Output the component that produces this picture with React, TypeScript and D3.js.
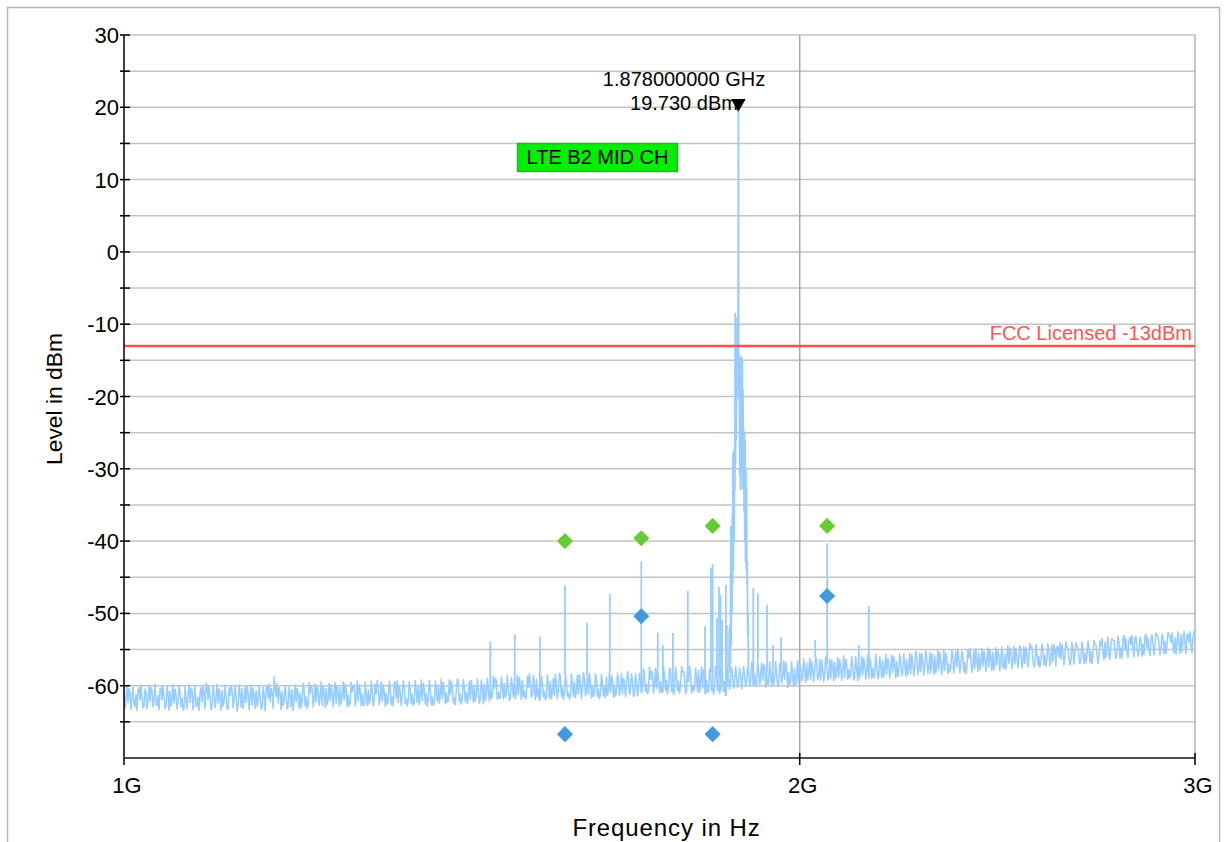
import React from "react";
import * as d3 from "d3";

const W = 1225;
const H = 842;
const FONT = "'Liberation Sans', Arial, sans-serif";

// axis definitions
const freqDomainMHz = [1000, 3000];
const levelDomain = [-70, 30];
const yMajorTicks = [30, 20, 10, 0, -10, -20, -30, -40, -50, -60];
const yMinorTicks = [25, 15, 5, -5, -15, -25, -35, -45, -55, -65];
const xTicksMHz = [1000, 2000, 3000];
const xTickLabels = ["1G", "2G", "3G"];

// noise floor: even sweep points (log-spaced from 1 GHz to 3 GHz)
const floorEven = [
  -60.0,-61.8,-62.4,-60.9,-61.5,-62.7,-61.2,-60.6,-62.1,-61.4,
  -62.9,-61.0,-61.7,-62.3,-60.8,-61.9,-62.6,-61.3,-60.4,-62.0,
  -61.6,-62.8,-61.1,-60.7,-61.9,-62.5,-61.4,-62.2,-60.9,-61.6,
  -63.0,-61.8,-61.2,-62.4,-60.5,-61.7,-62.9,-61.5,-60.9,-62.3,
  -61.1,-59.6,-62.0,-61.4,-62.7,-61.0,-61.8,-62.5,-61.3,-60.6,
  -62.2,-61.6,-63.2,-61.4,-60.8,-62.0,-61.5,-62.6,-61.1,-60.3,
  -61.9,-62.4,-61.0,-61.7,-62.8,-61.2,-60.6,-62.1,-61.5,-62.9,
  -61.3,-60.2,-61.8,-62.3,-61.0,-58.7,-61.6,-62.5,-61.1,-60.7,
  -62.0,-61.4,-62.7,-61.2,-60.5,-61.9,-62.3,-61.0,
  -61.0,-62.2,-60.6,-61.5,-62.6,-61.1,-60.4,-61.8,-62.3,-60.9,
  -61.4,-62.8,-61.0,-60.3,-61.7,-62.1,-60.8,-61.3,-62.5,-61.0,
  -60.2,-61.6,-62.0,-60.7,-61.2,-62.4,-60.9,-59.9,-61.5,-62.2,
  -60.6,-61.1,-62.7,-61.3,-60.5,-61.9,-60.8,-62.0,-61.2,-60.1,
  -61.6,-62.3,-60.7,-61.0,-62.1,-60.4,-61.5,-59.5,-61.8,-62.4,
  -60.9,-61.3,-60.2,-61.7,-62.0,-60.6,-61.1,-62.5,-60.8,-60.0,
  -61.4,-62.1,-60.5,-61.0,-61.8,-60.3,-61.5,-62.2,-60.7,-59.8,
  -61.2,-61.9,-60.4,-60.9,-62.0,-61.3,-60.1,-61.6,-60.6,-59.6,
  -61.1,-61.8,-60.2,-60.8,-61.5,-62.0,-60.5,-59.9,-61.3,-60.7,
  -61.7,-60.3,-59.7,-61.2,-60.6,
  -60.0,-61.4,-60.5,-59.3,-60.8,-61.6,-60.2,-59.6,-61.0,-60.4,
  -61.7,-60.1,-59.4,-60.9,-61.3,-60.0,-59.2,-60.6,-61.5,-60.3,
  -59.7,-61.1,-60.5,-59.0,-60.4,-61.2,-59.8,-60.7,-61.6,-60.0,
  -59.3,-60.9,-61.4,-59.9,-60.5,-58.8,-60.2,-61.0,-59.6,-60.8,
  -61.5,-60.1,-59.4,-60.6,-61.2,-59.8,-60.3,-58.9,-60.7,-61.3,
  -59.5,-60.0,-60.9,-59.2,-60.4,-61.1,-59.7,-60.2,-58.7,-60.6,
  -61.0,-59.4,-59.9,-60.8,-59.1,-60.3,-61.2,-59.6,-60.0,-58.8,
  -60.5,-59.3,-60.9,-59.7,-60.2,
  -59.0,-60.4,-58.6,-59.7,-60.8,-59.2,-58.3,-59.9,-60.5,-58.8,
  -59.4,-60.9,-58.5,-59.1,-60.2,-57.9,-59.6,-60.6,-58.7,-59.3,
  -60.1,-58.2,-59.0,-60.7,-59.5,-58.4,-59.8,-60.3,-58.9,-57.8,
  -59.5,-60.4,-58.6,-59.2,-60.9,-58.1,-59.7,-60.2,-58.5,-59.0,
  -60.6,-58.8,-59.4,-60.1,-59.0,
  -59.2,-58.6,-59.5,-58.9,-59.3,-58.4,-59.0,-58.7,-59.4,
  -58.0,-59.5,-57.6,-58.4,-59.8,-57.9,-58.7,-59.3,-57.4,-58.2,
  -59.6,-58.5,-57.7,-59.0,-58.3,-59.9,-57.8,-58.6,-59.2,-57.5,
  -58.1,-59.4,-58.8,-57.6,-58.9,-59.7,
  -57.4,-59.0,-57.9,-56.8,-58.3,-59.2,-57.6,-58.0,-56.6,-58.7,
  -59.3,-57.5,-58.1,-57.0,-58.8,-59.1,-57.3,-56.7,-58.2,-58.9,
  -57.4,-57.9,-59.0,-56.9,-57.7,-58.5,-57.1,-58.8,-57.6,-56.5,
  -58.0,-58.6,-57.2,-57.8,-59.0,-56.8,-57.5,-58.3,-57.0,-58.7,
  -57.3,-56.4,-57.9,-58.5,-56.9,-57.6,-58.2,-57.1,-56.6,-58.0,
  -56.8,-58.2,-57.0,-56.3,-57.6,-58.4,-56.7,-57.3,-55.9,-57.8,
  -58.1,-56.5,-57.2,-56.0,-57.7,-58.3,-56.6,-55.8,-57.4,-57.9,
  -56.4,-57.1,-58.0,-56.2,-56.9,-57.6,-55.7,-56.8,-57.5,-56.1,
  -57.3,-55.6,-56.7,-57.8,-56.3,-56.0,-57.2,-57.7,-56.5,-55.4,
  -56.9,-57.4,-55.9,-56.6,-57.5,-56.0,-55.3,-56.8,-57.2,-55.8,
  -56.3,-57.3,-55.6,-56.0,-57.0,-55.2,-56.5,-57.1,-55.8,-56.2,
  -55.1,-56.8,-57.0,-55.5,-56.1,-54.8,-56.4,-56.9,-55.3,-55.9,
  -56.6,-54.9,-55.7,-56.5,-55.2,-56.0,-56.8,-55.0,-54.6,-56.1,
  -56.4,-55.3,-55.8,-54.7,-56.2,-56.6,-55.1,-55.5,-54.5,-55.9,
  -56.3,-54.8,-55.4,-56.0,-54.6,-55.2,-55.8,-54.3,-55.6,-56.1,
  -54.6,-55.5,-53.9,-54.9,-55.7,-54.2,-53.7,-55.1,-55.6,-54.0,
  -54.7,-53.5,-55.2,-55.4,-53.8,-54.4,-55.0,-53.4,-54.6,-55.3,
  -53.9,-54.2,-53.2,-54.8,-55.1,-53.6,-54.0,-54.7,-53.1,-54.3,
  -54.9,-53.5,-53.8,-54.5,-52.9,-54.1,-54.6,-53.3,-53.9,-54.4,
  -52.8,-53.7,-54.3,-53.0,-54.0,-54.5,-53.2,-53.6,
];

// odd sweep points (between the even ones) - the band extremes
const floorOdd = [
  -63.2,-59.9,-60.3,-63.4,-60.1,-62.9,-63.5,-60.2,-59.8,-63.1,
  -60.4,-63.3,-59.9,-60.2,-63.0,-59.7,-62.8,-63.4,-60.3,-59.9,
  -63.2,-60.0,-63.5,-62.9,-59.8,-60.4,-63.3,-59.9,-63.0,-63.4,
  -60.1,-63.2,-59.8,-60.3,-63.4,-60.0,-62.8,-63.5,-60.2,-59.9,
  -63.3,-60.1,-60.0,-63.4,-59.9,-63.1,-59.7,-60.4,-63.5,-62.9,
  -59.8,-63.3,-60.2,-59.9,-63.1,-60.0,-63.6,-59.8,-63.0,-63.2,
  -60.1,-59.9,-63.4,-59.8,-60.3,-63.2,-62.9,-60.0,-63.3,-60.2,
  -63.5,-60.1,-59.7,-60.3,-63.2,-60.4,-59.6,-60.2,-63.4,-62.8,
  -59.9,-63.3,-60.1,-63.0,-63.5,-59.8,-60.3,-63.2,
  -63.1,-59.6,-62.9,-63.2,-59.5,-59.9,-63.0,-59.7,-60.0,-62.8,
  -59.4,-60.0,-63.1,-62.7,-59.6,-59.8,-63.0,-59.5,-59.9,-62.9,
  -62.6,-59.4,-59.7,-63.0,-62.8,-59.5,-59.9,-62.9,-59.3,-59.8,
  -62.9,-62.7,-59.4,-62.8,-62.6,-59.3,-62.9,-59.7,-59.2,-62.7,
  -59.4,-59.8,-62.9,-62.6,-59.3,-62.7,-62.9,-59.5,-59.2,-59.9,
  -62.8,-59.3,-62.5,-62.9,-59.4,-62.6,-62.8,-59.2,-62.4,-62.7,
  -59.1,-59.6,-62.6,-62.9,-59.2,-62.7,-62.8,-59.3,-62.2,-62.5,
  -59.0,-59.5,-62.6,-62.4,-59.1,-59.3,-62.5,-62.7,-59.0,-62.3,
  -62.6,-59.1,-62.3,-62.5,-59.3,-59.2,-62.4,-62.2,-59.0,-62.5,
  -59.1,-62.6,-62.1,-58.9,-62.2,
  -61.9,-58.6,-58.9,-62.0,-61.8,-58.7,-61.9,-61.7,-58.5,-62.1,
  -58.8,-61.6,-61.9,-58.5,-58.8,-62.0,-61.6,-61.9,-58.6,-58.3,
  -61.7,-58.5,-62.0,-61.6,-62.1,-58.6,-61.6,-62.0,-58.4,-61.8,
  -61.9,-58.9,-58.3,-61.9,-58.2,-61.6,-62.0,-58.4,-61.5,-61.9,
  -58.3,-61.6,-61.8,-58.5,-58.4,-61.9,-58.1,-61.5,-58.6,-58.2,
  -61.8,-61.6,-58.3,-61.6,-61.9,-58.4,-61.5,-61.7,-61.4,-58.1,
  -58.5,-61.7,-61.5,-58.2,-61.4,-58.2,-58.9,-61.6,-58.0,-61.3,
  -58.3,-61.6,-58.3,-61.5,-58.2,
  -61.0,-57.6,-60.9,-61.2,-57.4,-57.9,-61.1,-57.5,-57.8,-61.0,
  -60.9,-57.3,-60.8,-61.2,-57.5,-60.9,-61.3,-57.4,-60.8,-61.1,
  -57.3,-57.9,-61.2,-57.4,-57.2,-61.1,-60.8,-57.5,-60.9,-61.0,
  -57.3,-57.7,-61.2,-60.9,-57.6,-60.8,-61.3,-57.2,-60.8,-61.1,
  -57.5,-60.9,-61.4,-57.4,-60.6,
  -57.4,-60.4,-57.3,-60.3,-57.5,-60.5,-57.3,-60.2,-57.4,
  -60.1,-56.7,-59.9,-60.2,-56.5,-60.0,-56.8,-57.0,-60.3,-60.0,
  -56.6,-60.1,-59.9,-56.6,-60.2,-56.9,-59.8,-56.5,-56.7,-60.3,
  -59.9,-56.6,-60.2,-60.0,-56.5,-57.0,
  -59.4,-56.2,-59.6,-59.3,-56.1,-56.5,-59.5,-56.0,-59.2,-56.3,
  -56.4,-59.5,-55.9,-59.3,-56.2,-56.4,-59.4,-59.1,-56.0,-56.3,
  -59.3,-55.8,-56.3,-59.2,-59.0,-55.9,-59.3,-55.9,-59.4,-59.0,
  -55.8,-56.1,-59.2,-55.7,-56.2,-59.1,-59.0,-55.6,-59.1,-55.9,
  -59.0,-58.9,-55.6,-56.2,-59.0,-55.7,-55.9,-59.0,-58.8,-55.6,
  -58.7,-55.5,-58.8,-58.6,-55.4,-55.7,-58.7,-55.2,-58.5,-55.4,
  -55.5,-58.6,-55.1,-58.4,-55.3,-55.5,-58.5,-58.3,-55.1,-55.3,
  -58.5,-55.0,-55.4,-58.4,-58.2,-55.0,-58.3,-55.2,-55.0,-58.3,
  -55.2,-58.2,-58.4,-55.0,-54.8,-58.2,-55.1,-54.8,-58.1,-57.9,
  -54.8,-55.2,-58.1,-54.7,-55.0,-58.0,-57.9,-54.7,-55.1,-58.0,
  -54.6,-57.7,-57.8,-54.4,-54.7,-57.7,-54.5,-54.8,-57.6,-54.4,
  -57.6,-54.5,-54.7,-57.5,-54.1,-54.6,-57.5,-54.2,-57.3,-57.5,
  -54.2,-57.2,-57.4,-54.1,-57.3,-54.3,-54.2,-57.3,-54.6,-54.0,
  -54.2,-57.2,-53.9,-54.8,-57.2,-53.9,-57.1,-54.0,-54.8,-57.0,
  -53.9,-57.0,-56.9,-53.8,-56.9,-57.0,-53.7,-54.4,-57.0,-53.8,
  -53.4,-56.5,-56.2,-53.2,-56.4,-53.5,-53.7,-56.3,-53.1,-56.2,
  -56.3,-53.0,-53.4,-56.2,-53.2,-53.0,-56.1,-53.1,-56.0,-53.2,
  -56.0,-55.8,-52.8,-53.3,-55.9,-52.9,-55.8,-52.7,-53.1,-55.8,
  -52.8,-55.7,-55.6,-52.6,-53.2,-52.6,-55.5,-55.7,-52.5,-55.6,
  -55.4,-52.4,-55.6,-52.8,-52.5,-55.5,-52.4,
];

// discrete spurs on the trace [MHz, dBm]
const spurFreqsMHz = [1456, 1493, 1532, 1572, 1608, 1646, 1700, 1729, 1738, 1756, 1783, 1815, 1826, 1829, 1837, 1841, 1844, 1847, 1854, 1856, 1907, 1916, 1934, 1946, 1962, 2032, 2057, 2125, 2147];
const spurLevels =    [-53.9, -52.9, -53.2, -46.1, -51.3, -47.3, -42.8, -52.7, -54.4, -52.7, -46.9, -51.8, -43.7, -43.2, -50.6, -46.3, -47.5, -50.9, -46.1, -51.6, -46.5, -47.3, -48.8, -54.4, -53.3, -53.7, -40.3, -54.4, -49.0];

// carrier region, read at fine resolution
const carrierMHz = [1860.0,1860.7,1861.4,1862.1,1862.8,1863.5,1864.2,1864.9,1865.6,1866.3,1867.0,1867.7,1868.4,1869.1,1869.8,1870.5,1871.2,1871.9,1872.6,1873.3,1874.0,1874.7,1875.4,1876.1,1876.8,1877.5,1878.0,1878.5,1879.2,1879.9,1880.6,1881.3,1882.0,1882.7,1883.4,1884.1,1884.8,1885.5,1886.2,1886.9,1887.6,1888.3,1889.0,1889.7,1890.4,1891.1,1891.8,1892.5,1893.2,1893.9,1894.6,1895.3,1896.0,1896.7,1897.4];
const carrierDbm = [-57.5,-52.0,-58.2,-51.5,-57.0,-37.9,-54.5,-38.3,-50.0,-36.5,-46.0,-27.8,-44.0,-27.5,-40.0,-27.0,-33.0,-8.4,-29.5,-9.0,-26.0,-12.0,-20.0,-10.5,-17.0,-6.0,19.73,-12.0,-20.5,-14.3,-31.0,-14.5,-33.0,-16.0,-28.0,-14.5,-30.5,-14.8,-32.8,-19.0,-31.0,-24.5,-36.0,-25.0,-40.0,-26.0,-43.0,-30.0,-44.0,-32.4,-46.0,-43.0,-53.0,-50.0,-57.5];

// limit markers
const greenMarkerMHz = [1572, 1700, 1829, 2057];
const greenMarkerDbm = [-40.0, -39.6, -37.9, -37.9];
const blueMarkerMHz = [1572, 1700, 1829, 2057];
const blueMarkerDbm = [-66.7, -50.4, -66.7, -47.6];

const limitLevel = -13;
const limitLabel = "FCC Licensed -13dBm";
const peakMHz = 1878.0;
const peakDbm = 19.73;
const peakLabel1 = "1.878000000 GHz";
const peakLabel2 = "19.730 dBm";
const bandLabel = "LTE B2 MID CH";

export default function App() {
  const L = 124, R = 1195, T = 35, B = 758;
  const x = d3.scaleLog().domain(freqDomainMHz).range([L, R]);
  const y = d3.scaleLinear().domain(levelDomain).range([B, T]);
  const floorLevels: number[] = [];
  floorEven.forEach((v, i) => {
    floorLevels.push(v);
    if (i < floorOdd.length) floorLevels.push(floorOdd[i]);
  });
  const sweep = d3.scaleLog().domain(freqDomainMHz).range([0, floorLevels.length - 1]);
  const floorPts: [number, number][] = floorLevels.map((v, i) => [sweep.invert(i), v]);
  const line = d3.line<[number, number]>().x((d) => x(d[0])).y((d) => y(d[1]));
  const carrierPts: [number, number][] = carrierMHz.map((f, i) => [f, carrierDbm[i]]);
  const diamond = d3.symbol().type(d3.symbolDiamond2).size(165);
  const tri = d3.symbol().type(d3.symbolTriangle).size(95);
  const traceColor = "#99ccff";
  const grid = [...yMajorTicks, ...yMinorTicks];

  return (
    <svg width={W} height={H} style={{ position: "absolute", left: 0, top: 0, background: "#fff" }} fontFamily={FONT}>
      <rect x={7.5} y={7.5} width={1212} height={900} fill="none" stroke="#b8b8b8" strokeWidth={1.5} />
      {grid.map((t) => (
        <line key={"g" + t} x1={L} x2={R} y1={y(t)} y2={y(t)} stroke="#c4c4c4" strokeWidth={1.5} />
      ))}
      <line x1={x(2000)} x2={x(2000)} y1={T} y2={B} stroke="#a8a8a8" strokeWidth={1.5} />
      <line x1={R} x2={R} y1={T} y2={B} stroke="#b4b4b4" strokeWidth={1.5} />

      {/* trace */}
      <g stroke={traceColor} fill="none">
        <path d={line(floorPts) || ""} strokeWidth={1.5} strokeLinejoin="bevel" />
        {spurFreqsMHz.map((f, i) => (
          <line key={"s" + i} x1={x(f)} x2={x(f)} y1={y(spurLevels[i])} y2={y(floorLevels[Math.round(sweep(f))])} strokeWidth={1.8} />
        ))}
        <path d={line(carrierPts) || ""} strokeWidth={1.8} strokeLinejoin="bevel" />
      </g>

      {/* limit line */}
      <line x1={L} x2={R} y1={y(limitLevel)} y2={y(limitLevel)} stroke="#ff4f4f" strokeWidth={2.5} />
      <text x={R - 3} y={y(limitLevel) - 6} textAnchor="end" fontSize={20} fill="#ff5555">{limitLabel}</text>

      {/* markers */}
      {greenMarkerMHz.map((f, i) => (
        <path key={"gm" + i} d={diamond() || ""} transform={`translate(${x(f)},${y(greenMarkerDbm[i])})`} fill="#66cc33" />
      ))}
      {blueMarkerMHz.map((f, i) => (
        <path key={"bm" + i} d={diamond() || ""} transform={`translate(${x(f)},${y(blueMarkerDbm[i])})`} fill="#3f9be0" />
      ))}

      {/* peak marker */}
      <path d={tri() || ""} transform={`translate(${x(peakMHz)},${y(peakDbm) - 6}) rotate(180)`} fill="#000" />
      <text x={684} y={86} textAnchor="middle" fontSize={20} fill="#000">{peakLabel1}</text>
      <text x={684} y={110} textAnchor="middle" fontSize={20} fill="#000">{peakLabel2}</text>

      {/* band label */}
      <rect x={517.5} y={143.5} width={160} height={28} fill="#00f000" stroke="#30b030" strokeWidth={1.5} />
      <text x={597.5} y={164} textAnchor="middle" fontSize={20} fill="#000">{bandLabel}</text>

      {/* axes */}
      <line x1={L} x2={L} y1={T} y2={B} stroke="#000" strokeWidth={1.5} />
      {grid.map((t) => (
        <line key={"t" + t} x1={L - 4} x2={L + 6} y1={y(t)} y2={y(t)} stroke="#000" strokeWidth={1.5} />
      ))}
      {yMajorTicks.map((t) => (
        <text key={"yl" + t} x={L - 5} y={y(t) + 8} textAnchor="end" fontSize={22} fill="#000">{t}</text>
      ))}
      <line x1={L} x2={R} y1={B} y2={B} stroke="#505050" strokeWidth={2} />
      {xTicksMHz.map((f, i) => (
        <g key={"x" + f}>
          <line x1={x(f)} x2={x(f)} y1={i === 0 ? B : B - 5} y2={B + 7} stroke="#000" strokeWidth={1.5} />
          <text x={x(f) + 3} y={793} textAnchor="middle" fontSize={22} fill="#000">{xTickLabels[i]}</text>
        </g>
      ))}
      <text x={666.5} y={836} textAnchor="middle" fontSize={24} letterSpacing={0.9} fill="#000">Frequency in Hz</text>
      <text transform={`translate(62,399) rotate(-90)`} textAnchor="middle" fontSize={22.8} fill="#000">Level in dBm</text>
    </svg>
  );
}
